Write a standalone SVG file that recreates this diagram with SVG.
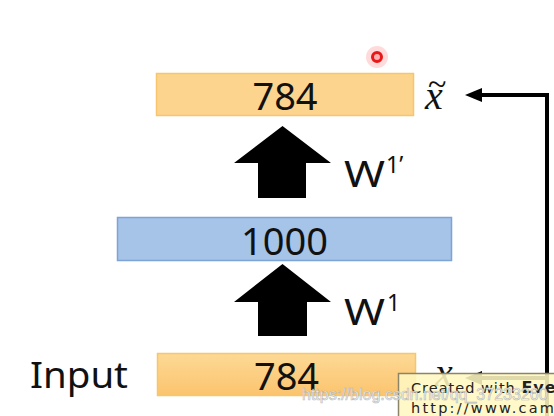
<svg xmlns="http://www.w3.org/2000/svg" width="554" height="416" viewBox="0 0 554 416">
<defs>
<linearGradient id="og" x1="0" y1="0" x2="0" y2="1">
<stop offset="0" stop-color="#FDD995"/>
<stop offset="1" stop-color="#FBC46E"/>
</linearGradient>
<style>
.num{font-family:"Noto Sans","Liberation Sans",sans-serif;font-size:38px;fill:#111;text-anchor:middle}
.lbl{font-family:"Noto Sans","Liberation Sans",sans-serif;font-size:36px;fill:#111}
.sup{font-family:"Noto Sans","Liberation Sans",sans-serif;font-size:23px;fill:#111}
.var{font-family:"Liberation Serif","DejaVu Serif",serif;font-style:italic;font-size:40px;fill:#111}
.blk{fill:#000}
.line{stroke:#000;stroke-width:4;fill:none}
.tip{font-family:"DejaVu Sans",sans-serif;font-size:14.5px;fill:#222}
</style>
</defs>
<rect width="554" height="416" fill="#fff"/>

<g id="cursor">
<circle cx="377" cy="57" r="11" fill="#ff3030" opacity="0.18"/>
<circle cx="377" cy="57" r="4.5" fill="#ffb0b0" stroke="#e81818" stroke-width="3"/>
</g>

<g id="connectors">
<polygon class="blk" points="282.5,126 331,163 306,163 306,198 258,198 258,163 234,163"/>
<polygon class="blk" points="282.5,264 331,302 307,302 307,336 258,336 258,302 234,302"/>
<path class="line" d="M547,416 L547,95 L482,95" />
<path d="M482,88 L465,95 L482,102 Z" fill="#000"/>
<path class="line" d="M547,378 L482,378"/>
<path d="M482,371 L465,378 L482,385 Z" fill="#000"/>
</g>

<g id="node-output">
<rect x="156.5" y="73.5" width="257" height="42" fill="#FDD48D" stroke="#F7C56C" stroke-width="1.5"/>
<text class="num" x="285" y="110">784</text>
<text class="var" x="425" y="109">x<tspan font-style="normal" font-size="34" dx="-14.8" dy="-14">~</tspan></text>
</g>

<g id="label-w1p">
<text class="lbl" x="344" y="187" textLength="41" lengthAdjust="spacingAndGlyphs">W</text>
<text class="sup" x="386" y="173">1’</text>
</g>

<g id="node-hidden">
<rect x="117.5" y="217.5" width="334" height="43" fill="#A6C3E8" stroke="#7EA3D5" stroke-width="1.5"/>
<text class="num" x="284.5" y="255">1000</text>
</g>

<g id="label-w1">
<text class="lbl" x="344" y="325" textLength="41" lengthAdjust="spacingAndGlyphs">W</text>
<text class="sup" x="387" y="311">1</text>
</g>

<g id="node-input">
<text class="lbl" x="30" y="388" textLength="98" lengthAdjust="spacingAndGlyphs">Input</text>
<rect x="157.5" y="353.5" width="258" height="42" fill="url(#og)" stroke="#F7C56C" stroke-width="1.5"/>
<text class="num" x="286.5" y="390">784</text>
<text class="var" x="435" y="386">x</text>
</g>

<g id="tooltip">
<rect x="398.5" y="373.5" width="160" height="50" fill="#FFF7C0" fill-opacity="0.88" stroke="#8C8468" stroke-width="1.5"/>
<text class="tip" x="411" y="393" letter-spacing="1">Created with <tspan font-weight="bold" font-size="16">Eve</tspan></text>
<text class="tip" x="411" y="413" letter-spacing="2.2">http://www.camo</text>
</g>

<g id="watermark">
<text x="302" y="400" font-family="Liberation Sans, Arial, sans-serif" font-size="16" fill="#ffffff" fill-opacity="0.9" stroke="#aaaaaa" stroke-width="0.7" stroke-opacity="0.8">https://blog.csdn.net/qq_37233260</text>
</g>
</svg>
